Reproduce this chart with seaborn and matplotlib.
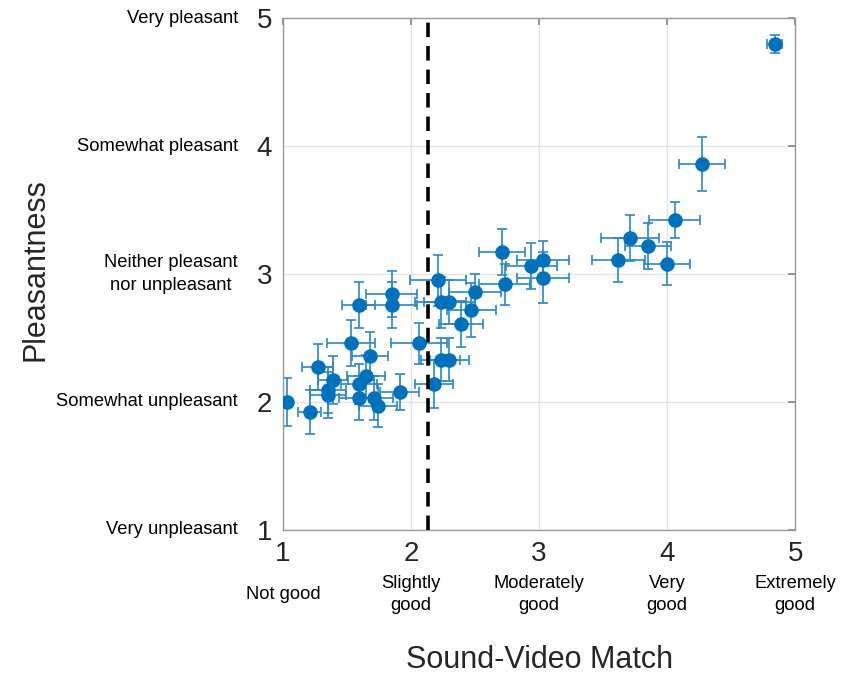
import numpy as np
import pandas as pd
import matplotlib
matplotlib.use('Agg')
import matplotlib.pyplot as plt
import matplotlib.transforms as mtransforms
import seaborn as sns

# per-clip means (sound-video match, pleasantness) with error bars
match = [1.03, 1.21, 1.27, 1.39, 1.35, 1.35, 1.59, 1.53, 1.68, 1.59, 1.65,
         1.59, 1.71, 1.74, 1.85, 1.85, 1.91, 2.06, 2.18, 2.21, 2.23, 2.30,
         2.23, 2.30, 2.39, 2.47, 2.50, 2.71, 2.73, 2.94, 3.03, 3.03,
         3.62, 3.71, 3.85, 4.00, 4.06, 4.27, 4.84]
pleasant = [2.00, 1.92, 2.27, 2.17, 2.09, 2.05, 2.76, 2.46, 2.36, 2.14, 2.20,
            2.03, 2.03, 1.97, 2.84, 2.76, 2.08, 2.46, 2.14, 2.95, 2.78, 2.78,
            2.33, 2.33, 2.61, 2.72, 2.86, 3.17, 2.92, 3.06, 3.11, 2.97,
            3.11, 3.28, 3.22, 3.08, 3.42, 3.86, 4.80]
match_err = [0.02, 0.09, 0.12, 0.12, 0.14, 0.14, 0.13, 0.19, 0.14, 0.14, 0.15,
             0.15, 0.15, 0.15, 0.20, 0.20, 0.15, 0.22, 0.15, 0.22, 0.20, 0.20,
             0.15, 0.15, 0.17, 0.19, 0.20, 0.18, 0.20, 0.20, 0.20, 0.20,
             0.21, 0.23, 0.18, 0.18, 0.20, 0.18, 0.06]
pleasant_err = [0.19, 0.17, 0.18, 0.19, 0.18, 0.18, 0.18, 0.18, 0.19, 0.16, 0.17,
                0.17, 0.17, 0.17, 0.18, 0.18, 0.14, 0.16, 0.19, 0.20, 0.20, 0.17,
                0.17, 0.17, 0.18, 0.21, 0.14, 0.18, 0.16, 0.18, 0.15, 0.20,
                0.17, 0.18, 0.18, 0.17, 0.14, 0.21, 0.07]

threshold = 2.13
ticks = [1, 2, 3, 4, 5]
y_labels = ['Very unpleasant', 'Somewhat unpleasant',
            'Neither pleasant\nnor unpleasant', 'Somewhat pleasant', 'Very pleasant']
x_labels = ['Not good', 'Slightly\ngood', 'Moderately\ngood', 'Very\ngood', 'Extremely\ngood']

df = pd.DataFrame({'match': match, 'pleasant': pleasant,
                   'match_err': match_err, 'pleasant_err': pleasant_err})

sns.set_theme(style='white')
plt.rcParams['font.family'] = ['Liberation Sans', 'DejaVu Sans']

blue = '#0072BD'
fig = plt.figure(figsize=(8.45, 6.74), dpi=100)
ax = fig.add_axes([0.335, 0.214, 0.606, 0.759])

ax.errorbar(df['match'], df['pleasant'], xerr=df['match_err'], yerr=df['pleasant_err'],
            fmt='none', ecolor='#2a86cc', elinewidth=1.2, capsize=3.5, capthick=1.2, zorder=2)
sns.scatterplot(data=df, x='match', y='pleasant', ax=ax, color=blue, s=110,
                edgecolor=blue, linewidth=0, zorder=3)
ax.axvline(threshold, color='black', linestyle=(0, (4, 2.5)), linewidth=2.6, zorder=4)

ax.set_xlim(1, 5)
ax.set_ylim(1, 5)
ax.set_xticks(ticks)
ax.set_yticks(ticks)
ax.set_xticklabels([str(t) for t in ticks], fontsize=20, color='#262626')
ax.set_yticklabels([str(t) for t in ticks], fontsize=20, color='#262626')
ax.tick_params(axis='both', direction='in', length=5, color='#888888', pad=8,
               top=True, right=True)
ax.grid(True, color='#e3e3e3', linewidth=0.9)
for sp in ax.spines.values():
    sp.set_color('#9a9a9a')
    sp.set_linewidth(1.0)

ax.set_xlabel('')
ax.set_ylabel('')

# descriptive labels beside the numeric ticks
ytrans = mtransforms.blended_transform_factory(ax.transAxes, ax.transData)
for t, lab in zip(ticks, y_labels):
    ax.text(-0.088, t, lab, transform=ytrans, ha='right', va='center',
            multialignment='center', fontsize=13.2, color='black', linespacing=1.5)
xtrans = mtransforms.blended_transform_factory(ax.transData, ax.transAxes)
for t, lab in zip(ticks, x_labels):
    ax.text(t, -0.127, lab, transform=xtrans, ha='center', va='center',
            fontsize=13.2, color='black', linespacing=1.38)

fig.text(0.638, 0.021, 'Sound-Video Match', ha='center', va='center',
         fontsize=22, color='#262626')
fig.text(0.042, 0.6, 'Pleasantness', ha='center', va='center', rotation=90,
         fontsize=22, color='#262626')

fig.savefig('out.png', dpi=100)
